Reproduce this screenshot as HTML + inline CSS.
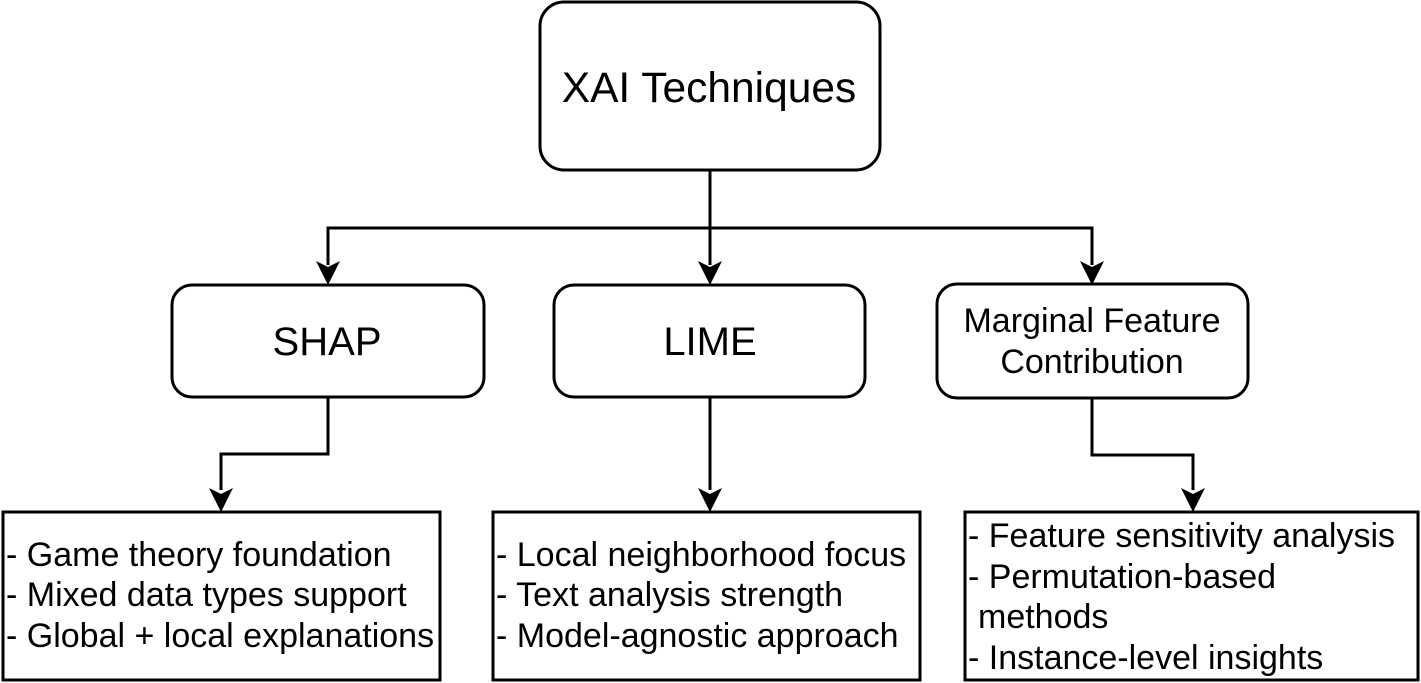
<!DOCTYPE html>
<html><head><meta charset="utf-8"><style>
html,body{margin:0;padding:0;background:#fff;}
svg{display:block;}
text{font-family:"Liberation Sans",Arial,sans-serif;fill:#000;}
</style></head><body>
<svg width="1421" height="683" viewBox="0 0 1421 683" xmlns="http://www.w3.org/2000/svg">
<g fill="none" stroke="#000" stroke-width="3">
<rect x="540" y="2" width="340" height="168" rx="24"/>
<rect x="172" y="285" width="312" height="112" rx="20"/>
<rect x="554" y="285" width="311" height="112" rx="20"/>
<rect x="937" y="284" width="311" height="114" rx="20"/>
<rect x="3" y="512" width="437" height="168"/>
<rect x="493" y="512" width="427" height="168"/>
<rect x="965" y="512" width="453" height="168"/>
<path d="M710 170 V265 M328 265 V228 H1092 V265"/>
<path d="M328 397 V454 H221 V490"/>
<path d="M710 397 V490"/>
<path d="M1092 398 V455 H1193 V490"/>
</g>
<g fill="#000">
<path d="M316 261 L328 285 L340 261 L328 267 Z"/>
<path d="M698 261 L710 285 L722 261 L710 267 Z"/>
<path d="M1080 261 L1092 285 L1104 261 L1092 267 Z"/>
<path d="M209 488 L221 512 L233 488 L221 494 Z"/>
<path d="M698 488 L710 512 L722 488 L710 494 Z"/>
<path d="M1181 488 L1193 512 L1205 488 L1193 494 Z"/>
</g>
<text x="709" y="102" font-size="42.5" text-anchor="middle">XAI Techniques</text>
<text x="327" y="355" font-size="40" text-anchor="middle" textLength="109">SHAP</text>
<text x="710" y="355" font-size="40" text-anchor="middle">LIME</text>
<text x="1092" y="332" font-size="34" text-anchor="middle">Marginal Feature</text>
<text x="1092" y="373" font-size="34" text-anchor="middle">Contribution</text>
<g font-size="34">
<text x="6" y="566">- Game theory foundation</text>
<text x="6" y="606">- Mixed data types support</text>
<text x="6" y="647">- Global + local explanations</text>
<text x="496" y="566">- Local neighborhood focus</text>
<text x="496" y="606">- Text analysis strength</text>
<text x="496" y="647">- Model-agnostic approach</text>
<text x="968" y="547">- Feature sensitivity analysis</text>
<text x="968" y="588">- Permutation-based</text>
<text x="978" y="628">methods</text>
<text x="968" y="669">- Instance-level insights</text>
</g>
</svg>
</body></html>
